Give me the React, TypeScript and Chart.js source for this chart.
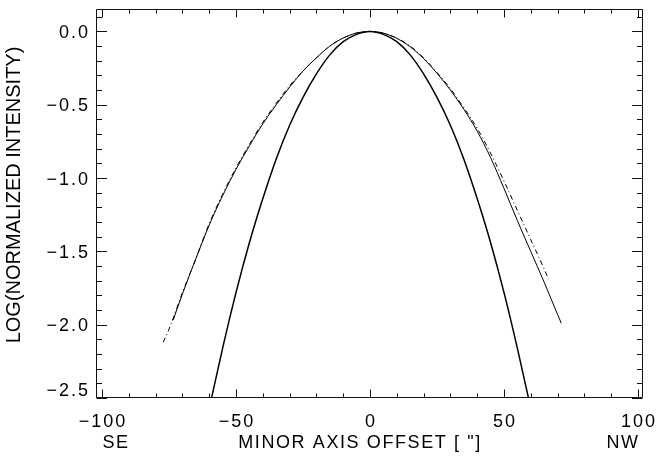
import React, { useEffect, useRef } from "react";
import { Chart, registerables } from "chart.js";

Chart.register(...registerables);

// ---- data ----
const narrowX = [-60, -55, -50, -45, -40, -35, -30, -25, -20, -15, -10, -5, 0, 5, 10, 15, 20, 25, 30, 35, 40, 45, 50, 55, 60];
const narrowY = [-2.57, -2.16, -1.78, -1.44, -1.14, -0.87, -0.64, -0.45, -0.29, -0.16, -0.07, -0.02, 0, -0.02, -0.07, -0.16, -0.29, -0.45, -0.64, -0.87, -1.14, -1.44, -1.78, -2.16, -2.57];

const wideX = [-73.5, -70, -65, -60, -55, -50, -45, -40, -35, -30, -25, -20, -15, -10, -5, 0, 5, 10, 15, 20, 25, 30, 35, 40, 45, 50, 55, 60, 65, 70, 71.4];
const wideY = [-1.97, -1.79, -1.55, -1.32, -1.12, -0.94, -0.78, -0.63, -0.5, -0.38, -0.27, -0.18, -0.1, -0.045, -0.011, 0, -0.012, -0.047, -0.105, -0.185, -0.285, -0.4, -0.53, -0.68, -0.86, -1.07, -1.29, -1.5, -1.71, -1.93, -1.99];

const dashX = [-77.2, -75, -70, -65, -60, -55, -50, -45, -40, -35, -30, -25, -20, -15, -10, -5, 0, 5, 10, 15, 20, 25, 30, 35, 40, 45, 50, 55, 60, 65, 66.6];
const dashY = [-2.12, -2.03, -1.78, -1.55, -1.31, -1.11, -0.93, -0.77, -0.62, -0.49, -0.37, -0.27, -0.18, -0.1, -0.045, -0.011, 0, -0.012, -0.046, -0.1, -0.18, -0.28, -0.39, -0.52, -0.66, -0.83, -1.02, -1.22, -1.42, -1.62, -1.69];

const xMajorTicks = [-100, -50, 0, 50, 100];
const xTickLabels = ["\u2212100", "\u221250", "0", "50", "100"];
const xMinorTicks = [-90, -80, -70, -60, -40, -30, -20, -10, 10, 20, 30, 40, 60, 70, 80, 90];
const yMajorTicks = [0, -0.5, -1, -1.5, -2, -2.5];
const yTickLabels = ["0.0", "\u22120.5", "\u22121.0", "\u22121.5", "\u22122.0", "\u22122.5"];
const yMinorTicks = [0.1, -0.1, -0.2, -0.3, -0.4, -0.6, -0.7, -0.8, -0.9, -1.1, -1.2, -1.3, -1.4, -1.6, -1.7, -1.8, -1.9, -2.1, -2.2, -2.3, -2.4];

const xTitle = 'MINOR AXIS OFFSET [ "]';
const xLeftNote = "SE";
const xRightNote = "NW";
const yTitle = "LOG(NORMALIZED INTENSITY)";

const toPts = (xs: number[], ys: number[]) => xs.map((x, i) => ({ x, y: ys[i] }));

const FONT = '"Liberation Sans", Arial, sans-serif';

const idlPlugin = {
  id: "idlFrame",
  afterDraw(chart: any) {
    const ctx: CanvasRenderingContext2D = chart.ctx;
    const xs = chart.scales.x;
    const ys = chart.scales.y;
    const a = chart.chartArea;
    const L = Math.floor(a.left) - 0.5;
    const R = Math.floor(a.right) - 0.5;
    const T = Math.floor(a.top) + 0.5;
    const B = Math.floor(a.bottom) - 0.5;
    ctx.save();
    ctx.strokeStyle = "#111";
    ctx.lineWidth = 1;
    ctx.beginPath();
    ctx.rect(L, T, R - L, B - T);
    const xt = (v: number, len: number) => {
      const px = Math.round(xs.getPixelForValue(v)) + 0.5;
      ctx.moveTo(px, B);
      ctx.lineTo(px, B - len);
      ctx.moveTo(px, T);
      ctx.lineTo(px, T + len);
    };
    xMajorTicks.forEach((v) => xt(v, 8));
    xMinorTicks.forEach((v) => xt(v, 4));
    const yt = (v: number, len: number) => {
      const py = Math.round(ys.getPixelForValue(v)) + 0.5;
      ctx.moveTo(L, py);
      ctx.lineTo(L + len, py);
      ctx.moveTo(R, py);
      ctx.lineTo(R - len, py);
    };
    yMajorTicks.forEach((v) => yt(v, 10.5));
    yMinorTicks.forEach((v) => yt(v, 5.5));
    ctx.stroke();

    ctx.fillStyle = "#000";
    (ctx as any).letterSpacing = "2px";
    ctx.font = `18px ${FONT}`;
    ctx.textBaseline = "middle";
    ctx.textAlign = "center";
    xMajorTicks.forEach((v, i) => {
      ctx.fillText(xTickLabels[i], xs.getPixelForValue(v) + 1, 422);
    });
    ctx.textAlign = "right";
    yMajorTicks.forEach((v, i) => {
      let py = ys.getPixelForValue(v) + 1.5;
      if (v === ys.min) py -= 8;
      ctx.fillText(yTickLabels[i], 90, py);
    });
    (ctx as any).letterSpacing = "1.6px";
    ctx.textAlign = "center";
    ctx.fillText(xLeftNote, 116, 443);
    ctx.fillText(xTitle, 360, 443);
    ctx.fillText(xRightNote, 623, 443);
    (ctx as any).letterSpacing = "0px";
    ctx.font = `20px ${FONT}`;
    ctx.translate(14, 195);
    ctx.rotate(-Math.PI / 2);
    ctx.fillText(yTitle, 0, 0);
    ctx.restore();
  },
};

export default function App() {
  const ref = useRef<HTMLCanvasElement>(null);
  useEffect(() => {
    if (!ref.current) return;
    const chart = new Chart(ref.current, {
      type: "line",
      data: {
        datasets: [
          {
            data: toPts(narrowX, narrowY),
            borderColor: "#000",
            borderWidth: 1.5,
            pointRadius: 0,
            cubicInterpolationMode: "monotone",
            fill: false,
          },
          {
            data: toPts(wideX, wideY),
            borderColor: "#000",
            borderWidth: 1,
            pointRadius: 0,
            cubicInterpolationMode: "monotone",
            fill: false,
          },
          {
            data: toPts(dashX, dashY),
            borderColor: "#000",
            borderWidth: 1,
            borderDash: [5, 3, 1, 3],
            pointRadius: 0,
            cubicInterpolationMode: "monotone",
            fill: false,
          },
        ],
      },
      options: {
        animation: false,
        responsive: false,
        devicePixelRatio: 1,
        layout: { padding: { left: 97, right: 14, top: 9, bottom: 61 } },
        plugins: { legend: { display: false }, tooltip: { enabled: false } },
        scales: {
          x: { type: "linear", min: -101.9, max: 101.9, display: false },
          y: { type: "linear", min: -2.5, max: 0.153, display: false },
        },
      },
      plugins: [idlPlugin],
    });
    return () => chart.destroy();
  }, []);
  return (
    <div style={{ position: "fixed", left: 0, top: 0, width: 657, height: 459, background: "#fff" }}>
      <canvas ref={ref} width={657} height={459} style={{ display: "block" }} />
    </div>
  );
}
